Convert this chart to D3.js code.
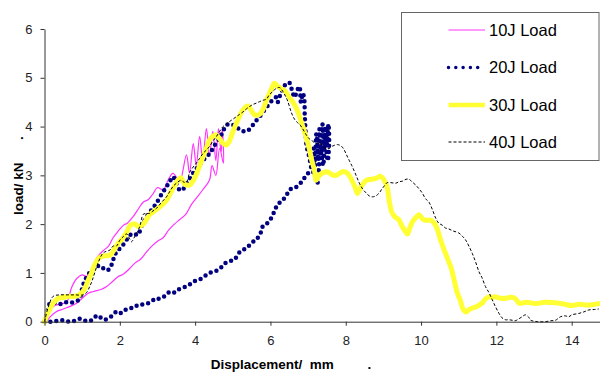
<!DOCTYPE html>
<html>
<head>
<meta charset="utf-8">
<script src="https://cdn.jsdelivr.net/npm/d3@7/dist/d3.min.js"></script>
<style>
  html, body { margin: 0; padding: 0; background: #fff; }
  svg { display: block; font-family: "Liberation Sans", Arial, sans-serif; }
  .title { white-space: pre; }
</style>
</head>
<body>
<div id="chart"></div>
<script>
// series names and tick values
const seriesNames = ['10J Load', '20J Load', '30J Load', '40J Load'];
const xTickValues = [0, 2, 4, 6, 8, 10, 12, 14];
const yTickValues = [0, 1, 2, 3, 4, 5, 6];

// 10J: loading branch, oscillation at the top, unloading branch back to zero
const load10J = [
  [0,0],[0.1,0.15],[0.23,0.31],[0.4,0.36],[0.59,0.4],[0.72,0.7],[0.85,0.88],[1.0,0.96],[1.12,0.93],
  [1.25,1.05],[1.38,1.3],[1.55,1.45],[1.7,1.55],[1.82,1.72],[1.95,1.85],[2.1,1.98],[2.2,2.02],
  [2.35,2.15],[2.5,2.32],[2.62,2.45],[2.75,2.5],[2.88,2.62],[3.0,2.75],[3.15,2.7],[3.28,2.9],
  [3.41,3.04],[3.54,2.92],[3.6,2.88],[3.77,3.42],[3.85,3.05],[3.95,3.65],[4.03,3.2],[4.12,3.8],
  [4.2,3.3],[4.3,3.96],[4.38,3.4],[4.47,3.9],[4.55,3.3],[4.62,3.96],[4.69,3.45],[4.72,3.96],
  [4.75,3.25],[4.65,3.55],[4.55,3.0],[4.45,3.2],[4.38,2.9],
  [4.2,2.7],[4.05,2.55],[3.9,2.4],[3.75,2.2],[3.6,2.1],[3.45,2.0],[3.3,1.88],[3.15,1.72],[3.0,1.65],
  [2.85,1.55],[2.7,1.42],[2.55,1.28],[2.4,1.2],[2.25,1.08],[2.1,0.98],[1.95,0.92],[1.8,0.82],
  [1.65,0.72],[1.5,0.66],[1.3,0.62],[1.15,0.58],[1.0,0.48],[0.85,0.38],[0.7,0.32],[0.5,0.26],
  [0.3,0.2],[0.15,0.1],[0.05,0]
];

// 20J: loading branch, scatter near 7.3 mm, unloading branch
const load20J = [
  [0,0],[0.08,0.2],[0.15,0.38],[0.28,0.38],[0.41,0.36],[0.55,0.4],[0.68,0.39],[0.85,0.42],[0.94,0.48],
  [0.99,0.65],[1.07,0.85],[1.15,0.95],[1.21,1.02],[1.29,1.08],[1.34,1.13],[1.45,1.14],[1.52,1.13],
  [1.6,1.06],[1.68,1.06],[1.74,1.09],[1.82,1.26],[1.91,1.43],[2.05,1.54],[2.18,1.68],[2.28,1.78],
  [2.35,1.81],[2.48,1.78],[2.57,1.95],[2.66,2.08],[2.75,2.2],[2.85,2.3],[2.97,2.43],[3.1,2.6],
  [3.24,2.77],[3.33,2.88],[3.41,2.97],[3.5,2.85],[3.59,2.7],[3.66,2.7],[3.75,2.8],[3.85,2.92],
  [3.95,3.05],[4.03,3.13],[4.12,3.22],[4.21,3.31],[4.3,3.38],[4.39,3.45],[4.52,3.62],[4.65,3.76],
  [4.75,3.92],[4.83,4.03],[4.95,4.05],[5.08,4.0],[5.2,3.93],[5.3,3.9],[5.4,3.92],[5.5,4.0],
  [5.6,4.1],[5.71,4.2],[5.85,4.35],[5.95,4.45],[6.06,4.55],[6.15,4.6],[6.19,4.5],[6.26,4.65],
  [6.33,4.78],[6.42,4.88],[6.5,4.9],[6.57,4.75],[6.64,4.6],[6.7,4.72],[6.77,4.82],[6.81,4.5],
  [6.86,4.68],[6.9,4.55],[6.91,4.25],[6.93,3.95],[6.96,3.6],[7.03,3.38],[7.1,3.12],
  [7.15,3.55],[7.18,3.2],[7.22,3.85],[7.27,3.3],[7.3,3.95],[7.34,3.45],[7.38,4.05],[7.42,3.5],
  [7.46,4.0],[7.5,3.6],[7.54,4.05],[7.56,3.7],[7.52,3.3],[7.45,3.75],[7.4,3.2],[7.33,3.6],
  [7.28,3.1],[7.25,2.85],[7.21,3.0],
  [7.08,3.08],[6.95,3.0],[6.86,2.9],[6.72,2.78],[6.62,2.74],[6.5,2.7],[6.42,2.58],[6.33,2.5],
  [6.22,2.42],[6.12,2.3],[6.06,2.18],[5.93,2.03],[5.8,1.96],[5.73,1.8],[5.62,1.68],[5.5,1.62],
  [5.38,1.52],[5.25,1.46],[5.15,1.4],[5.05,1.28],[4.92,1.24],[4.8,1.2],[4.7,1.12],[4.58,1.05],
  [4.45,1.02],[4.32,0.97],[4.2,0.9],[4.07,0.85],[3.95,0.82],[3.85,0.76],[3.75,0.72],[3.62,0.68],
  [3.5,0.64],[3.41,0.58],[3.3,0.6],[3.18,0.52],[3.05,0.47],[2.95,0.48],[2.88,0.44],[2.75,0.38],
  [2.62,0.36],[2.5,0.32],[2.4,0.33],[2.3,0.28],[2.2,0.25],[2.1,0.24],[2.0,0.17],[1.9,0.2],
  [1.8,0.12],[1.7,0.08],[1.6,0.04],[1.5,0.08],[1.4,0.13],[1.3,0.06],[1.2,0.01],[1.08,0.02],
  [0.95,0.06],[0.85,0.03],[0.72,0.0],[0.6,0.01],[0.48,0.03],[0.35,0.02],[0.2,0.0],[0.1,0.0]
];

const load30J = [
  [0,0],[0.1,0.2],[0.23,0.38],[0.37,0.48],[0.5,0.5],[0.65,0.52],[0.8,0.52],[0.94,0.56],[1.05,0.65],
  [1.16,0.85],[1.25,1.0],[1.34,1.18],[1.47,1.32],[1.6,1.35],[1.74,1.36],[1.85,1.48],[1.95,1.6],
  [2.09,1.72],[2.2,1.86],[2.28,1.98],[2.4,2.0],[2.5,1.95],[2.62,2.0],[2.71,2.1],[2.8,2.2],
  [2.97,2.3],[3.1,2.38],[3.24,2.49],[3.35,2.65],[3.45,2.78],[3.54,2.9],[3.62,2.95],[3.72,2.82],
  [3.85,2.8],[3.94,2.88],[4.03,3.02],[4.12,3.2],[4.21,3.38],[4.3,3.56],[4.38,3.72],[4.47,3.8],
  [4.56,3.83],[4.65,3.75],[4.74,3.66],[4.83,3.62],[4.91,3.7],[5.0,3.89],[5.13,4.13],[5.27,4.34],
  [5.4,4.42],[5.5,4.32],[5.58,4.24],[5.71,4.25],[5.8,4.35],[5.9,4.55],[6.0,4.72],[6.11,4.89],
  [6.2,4.82],[6.3,4.77],[6.4,4.72],[6.5,4.6],[6.6,4.5],[6.72,4.32],[6.81,4.12],[6.88,3.95],
  [6.95,3.78],[7.03,3.55],[7.1,3.3],[7.17,3.1],[7.21,2.9],[7.3,3.0],[7.39,3.05],[7.52,3.07],
  [7.62,3.02],[7.74,3.0],[7.85,3.05],[7.95,3.08],[8.05,3.04],[8.12,2.96],[8.18,2.87],[8.25,2.75],
  [8.31,2.63],[8.38,2.72],[8.45,2.82],[8.55,2.9],[8.68,2.92],[8.8,2.94],[8.93,2.98],[9.02,2.9],
  [9.1,2.75],[9.15,2.5],[9.22,2.25],[9.3,2.15],[9.4,2.1],[9.5,1.95],[9.58,1.85],[9.64,1.8],
  [9.7,1.92],[9.77,2.05],[9.88,2.15],[9.95,2.19],[10.05,2.1],[10.15,2.08],[10.26,2.08],[10.35,2.02],
  [10.43,1.9],[10.52,1.67],[10.6,1.5],[10.7,1.3],[10.8,1.1],[10.88,0.85],[10.96,0.6],[11.05,0.42],
  [11.12,0.25],[11.2,0.2],[11.28,0.25],[11.36,0.28],[11.45,0.3],[11.54,0.34],[11.62,0.38],[11.7,0.46],
  [11.8,0.51],[11.9,0.5],[11.98,0.51],[12.1,0.48],[12.24,0.48],[12.38,0.5],[12.51,0.47],[12.6,0.38],
  [12.8,0.4],[13.04,0.37],[13.3,0.4],[13.57,0.39],[13.8,0.36],[14.0,0.33],[14.2,0.36],[14.4,0.34],
  [14.72,0.37]
];

const load40J = [
  [0,0],[0.1,0.3],[0.23,0.52],[0.41,0.55],[0.6,0.55],[0.8,0.55],[1.03,0.55],[1.12,0.6],[1.2,0.72],
  [1.27,0.85],[1.34,1.02],[1.43,1.22],[1.52,1.37],[1.6,1.43],[1.74,1.47],[1.82,1.55],[1.91,1.55],
  [2.0,1.67],[2.1,1.75],[2.18,1.8],[2.26,1.7],[2.31,1.64],[2.4,1.75],[2.53,1.95],[2.62,2.2],
  [2.7,2.22],[2.79,2.22],[2.88,2.27],[2.97,2.32],[3.1,2.44],[3.24,2.56],[3.32,2.66],[3.41,2.77],
  [3.52,2.85],[3.63,2.9],[3.7,2.86],[3.77,2.86],[3.85,3.05],[3.9,3.12],[4.03,3.25],[4.12,3.35],
  [4.21,3.45],[4.3,3.52],[4.38,3.59],[4.47,3.7],[4.56,3.79],[4.65,3.9],[4.74,4.0],[4.83,4.05],
  [4.91,4.1],[5.0,4.15],[5.09,4.2],[5.18,4.25],[5.27,4.3],[5.36,4.36],[5.44,4.41],[5.53,4.45],
  [5.62,4.48],[5.71,4.51],[5.8,4.54],[5.89,4.56],[5.97,4.65],[6.06,4.72],[6.15,4.78],[6.24,4.8],
  [6.33,4.72],[6.4,4.62],[6.46,4.52],[6.55,4.3],[6.64,4.15],[6.72,4.08],[6.77,4.05],[6.86,3.95],
  [6.95,3.83],[7.03,3.75],[7.12,3.7],[7.21,3.65],[7.3,3.68],[7.39,3.6],[7.47,3.55],[7.56,3.55],
  [7.65,3.6],[7.78,3.63],[7.88,3.6],[7.96,3.52],[8.02,3.42],[8.09,3.31],[8.16,3.2],[8.23,3.08],
  [8.3,2.95],[8.36,2.84],[8.45,2.72],[8.54,2.64],[8.62,2.58],[8.71,2.56],[8.8,2.58],[8.89,2.64],
  [8.96,2.72],[9.02,2.78],[9.1,2.85],[9.2,2.85],[9.33,2.84],[9.42,2.87],[9.5,2.88],[9.6,2.92],
  [9.68,2.92],[9.77,2.86],[9.86,2.8],[9.95,2.72],[10.03,2.64],[10.12,2.52],[10.21,2.45],[10.3,2.3],
  [10.39,2.12],[10.47,2.02],[10.56,1.98],[10.65,1.92],[10.74,1.9],[10.85,1.86],[11.0,1.82],[11.1,1.75],
  [11.18,1.68],[11.27,1.55],[11.36,1.4],[11.45,1.22],[11.54,1.02],[11.62,0.9],[11.71,0.72],[11.8,0.6],
  [11.89,0.45],[11.98,0.3],[12.07,0.17],[12.15,0.08],[12.24,0.04],[12.33,0.04],[12.42,0.03],[12.5,0.02],
  [12.6,0.06],[12.68,0.1],[12.77,0.14],[12.85,0.1],[12.91,0.03],[13.0,0.01],[13.1,0],[13.3,0],
  [13.45,0.02],[13.57,0.03],[13.7,0.1],[13.83,0.12],[13.92,0.1],[14.0,0.14],[14.19,0.17],[14.32,0.2],
  [14.45,0.24],[14.6,0.25],[14.72,0.26]
];

const seriesData = [load10J, load20J, load30J, load40J];

const width = 600, height = 374;
const styles = [
  { stroke: '#ff33ff', width: 1.2, dash: null, cap: 'butt' },
  { stroke: '#000080', width: 4.5, dash: '0,6', cap: 'round' },
  { stroke: '#ffff33', width: 5, dash: null, cap: 'round' },
  { stroke: '#000', width: 1, dash: '3,2', cap: 'butt' }
];

const svg = d3.select('#chart').append('svg')
  .attr('width', width)
  .attr('height', height);

const x = d3.scaleLinear().domain([0, 16]).range([44.5, 647]);
const y = d3.scaleLinear().domain([0, 6]).range([321.7, 29]);

const line = d3.line()
  .x(d => x(d[0]))
  .y(d => y(d[1]))
  .curve(d3.curveCatmullRom.alpha(0.5));

// series, in Excel order
svg.append('g').selectAll('path')
  .data(seriesData)
  .enter().append('path')
    .attr('d', line)
    .attr('fill', 'none')
    .attr('stroke', (d, i) => styles[i].stroke)
    .attr('stroke-width', (d, i) => styles[i].width)
    .attr('stroke-dasharray', (d, i) => styles[i].dash)
    .attr('stroke-linecap', (d, i) => styles[i].cap)
    .attr('stroke-linejoin', 'round');

// axes
const xAxis = d3.axisBottom(x).tickValues(xTickValues).tickFormat(d3.format('d'))
  .tickSize(4).tickSizeOuter(0).tickPadding(10);
const yAxis = d3.axisLeft(y).tickValues(yTickValues).tickFormat(d3.format('d'))
  .tickSize(4).tickSizeOuter(0).tickPadding(8);

const gx = svg.append('g')
  .attr('transform', `translate(0, ${y(0)})`)
  .call(xAxis);
const gy = svg.append('g')
  .attr('transform', `translate(${x(0)}, 0)`)
  .call(yAxis);

[gx, gy].forEach(g => {
  g.selectAll('path, line').attr('stroke', '#333');
  g.selectAll('text')
    .attr('fill', '#222')
    .style('font-size', '13px')
    .style('font-family', '"Liberation Sans", Arial, sans-serif');
});

// axis titles
svg.append('text')
  .attr('class', 'title')
  .attr('x', 210.7)
  .attr('y', 369)
  .style('font-size', '13.5px')
  .style('font-weight', 'bold')
  .attr('fill', '#000')
  .text('Displacement/  mm         .');

svg.append('text')
  .attr('class', 'title')
  .attr('transform', 'translate(22.5, 215) rotate(-90)')
  .style('font-size', '13.5px')
  .style('font-weight', 'bold')
  .attr('fill', '#000')
  .text('load/ kN      .');

// legend
const legend = svg.append('g');
legend.append('rect')
  .attr('x', 401.5)
  .attr('y', 12.5)
  .attr('width', 197.5)
  .attr('height', 148)
  .attr('fill', '#fff')
  .attr('stroke', '#666')
  .attr('stroke-width', 1);

const rowY = [30, 67.5, 105, 142];
const items = legend.selectAll('g.item')
  .data(seriesNames)
  .enter().append('g')
    .attr('class', 'item')
    .attr('transform', (d, i) => `translate(0, ${rowY[i]})`);

items.append('line')
  .attr('x1', 448.5)
  .attr('x2', 485)
  .attr('y1', 0)
  .attr('y2', 0)
  .attr('stroke', (d, i) => styles[i].stroke)
  .attr('stroke-width', (d, i) => i === 1 ? 3.5 : (i === 2 ? 4.5 : 1.2))
  .attr('stroke-dasharray', (d, i) => i === 1 ? '0,7.3' : styles[i].dash)
  .attr('stroke-linecap', (d, i) => i === 1 ? 'round' : 'butt');

items.append('text')
  .attr('x', 489)
  .attr('y', 0)
  .attr('dy', '0.36em')
  .style('font-size', '16.5px')
  .attr('fill', '#000')
  .text(d => d);
</script>
</body>
</html>
